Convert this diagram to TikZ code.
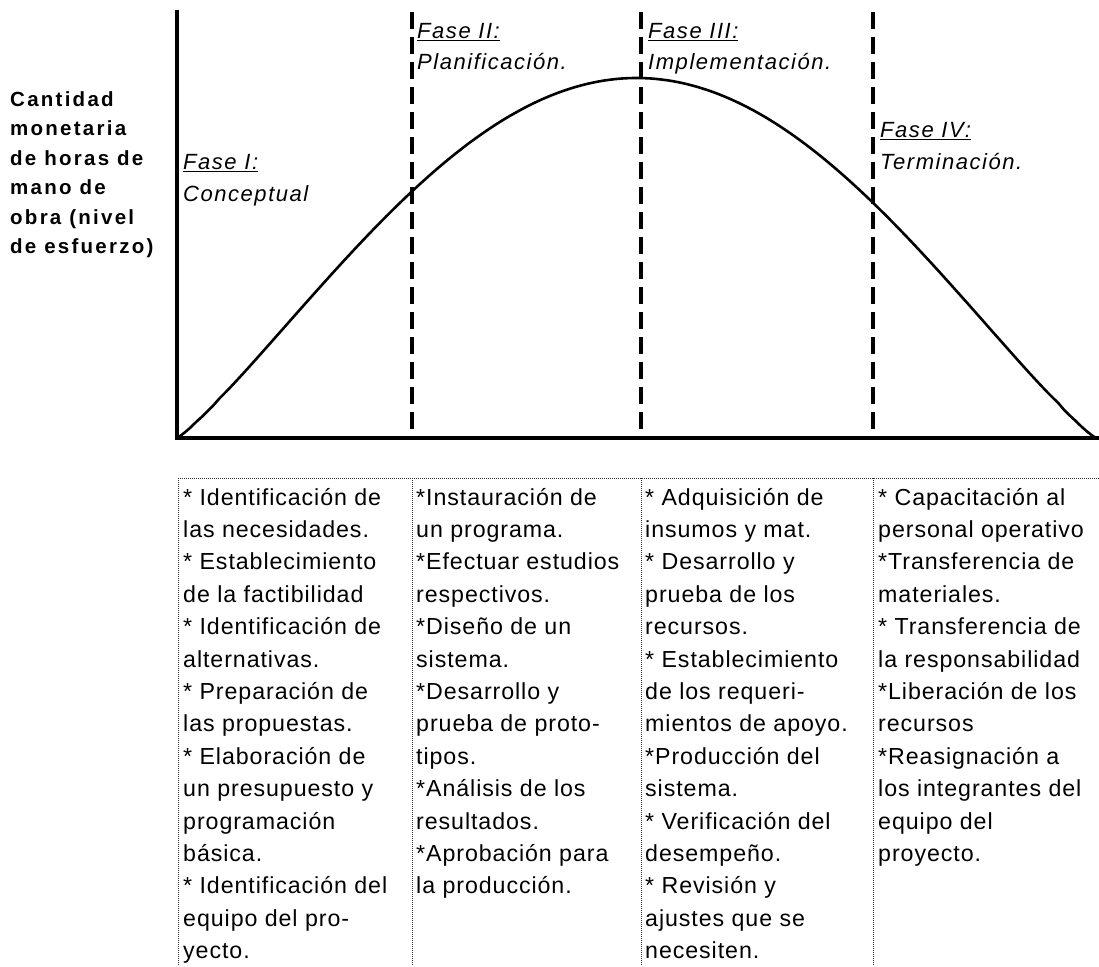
\documentclass[tikz,border=0pt]{standalone}
\usepackage{fontspec}
\setmainfont{Liberation Sans}
\newfontfamily\tabfont[LetterSpace=4]{Liberation Sans}
\newfontfamily\phfont[LetterSpace=7]{Liberation Sans}
\newfontfamily\ylabfont[LetterSpace=11]{Liberation Sans}
\newcommand\phul[1]{\setbox0\hbox{#1}\rlap{\rule[-3pt]{\wd0}{1.3pt}}\box0}
\newcommand\lns[1]{\begin{tabular}[t]{@{}l@{}}#1\end{tabular}}
\begin{document}
\begin{tikzpicture}[x=1pt,y=-1pt,
  axis/.style={line width=3.2pt, line cap=rect},
  phaseline/.style={line width=3.5pt, dash pattern=on 17pt off 8pt},
  tabline/.style={line width=1pt, dash pattern=on 1pt off 1pt, black!80},
  curve/.style={line width=2.6pt, line join=round},
  coltext/.style={anchor=base west, inner sep=0pt, font=\tabfont\fontsize{23.2}{32.4}\selectfont},
  phase/.style={anchor=base west, inner sep=0pt, font=\phfont\itshape\fontsize{22}{32}\selectfont},
  ylab/.style={anchor=base west, inner sep=0pt, font=\ylabfont\bfseries\fontsize{20.5}{29.5}\selectfont}]
\fill[white] (0,0) rectangle (1099,966);
\useasboundingbox (0,0) rectangle (1099,966);
% axes
\coordinate (ytop) at (177,12);
\coordinate (o) at (177,438);
\coordinate (xend) at (1099,438);
\draw[axis] (ytop) -- (o) -- (xend);
% phase separators
\foreach \n/\x in {a/412,b/641,c/873}{
  \coordinate (\n top) at (\x,12);
  \coordinate (\n bot) at (\x,438);
  \draw[phaseline] (\n top) -- (\n bot);
}
% curve
\coordinate (cend) at (1096,438);
\draw[curve] (o) -- plot[domain=0.002:0.998, samples=160] ({177+919*\x},{438-360*pow(sin(180*\x),1.15)}) -- (cend);
% y label
\node[ylab] (ylabel) at (10,106) {\lns{Cantidad\\monetaria\\de horas de\\mano de\\obra (nivel\\de esfuerzo)}};
% phase labels
\node[phase] (f1) at (183,169) {\lns{\phul{Fase I:}\\Conceptual}};
\node[phase] (f2) at (417,38) {\lns{\phul{Fase II:}\\Planificación.}};
\node[phase] (f3) at (648,38) {\lns{\phul{Fase III:}\\Implementación.}};
\node[phase] (f4) at (880,137) {\lns{\phul{Fase IV:}\\Terminación.}};
% table
\coordinate (t0) at (178,478);
\coordinate (t1) at (412,478);
\coordinate (t2) at (641,478);
\coordinate (t3) at (873,478);
\coordinate (tr) at (1099,478);
\coordinate (b0) at (178,966);
\coordinate (b1) at (412,966);
\coordinate (b2) at (641,966);
\coordinate (b3) at (873,966);
\draw[tabline] (t0) -- (tr);
\draw[tabline] (t0) -- (b0);
\draw[tabline] (t1) -- (b1);
\draw[tabline] (t2) -- (b2);
\draw[tabline] (t3) -- (b3);
\node[coltext] (c1) at (183,505) {\lns{* Identificación de\\{}las necesidades.\\{}* Establecimiento\\{}de la factibilidad\\{}* Identificación de\\{}alternativas.\\{}* Preparación de\\{}las propuestas.\\{}* Elaboración de\\{}un presupuesto y\\{}programación\\{}básica.\\{}* Identificación del\\{}equipo del pro-\\{}yecto.}};
\node[coltext] (c2) at (416,505) {\lns{*Instauración de\\{}un programa.\\{}*Efectuar estudios\\{}respectivos.\\{}*Diseño de un\\{}sistema.\\{}*Desarrollo y\\{}prueba de proto-\\{}tipos.\\{}*Análisis de los\\{}resultados.\\{}*Aprobación para\\{}la producción.}};
\node[coltext] (c3) at (645,505) {\lns{* Adquisición de\\{}insumos y mat.\\{}* Desarrollo y\\{}prueba de los\\{}recursos.\\{}* Establecimiento\\{}de los requeri-\\{}mientos de apoyo.\\{}*Producción del\\{}sistema.\\{}* Verificación del\\{}desempeño.\\{}* Revisión y\\{}ajustes que se\\{}necesiten.}};
\node[coltext] (c4) at (878,505) {\lns{* Capacitación al\\{}personal operativo\\{}*Transferencia de\\{}materiales.\\{}* Transferencia de\\{}la responsabilidad\\{}*Liberación de los\\{}recursos\\{}*Reasignación a\\{}los integrantes del\\{}equipo del\\{}proyecto.}};
\end{tikzpicture}
\end{document}
